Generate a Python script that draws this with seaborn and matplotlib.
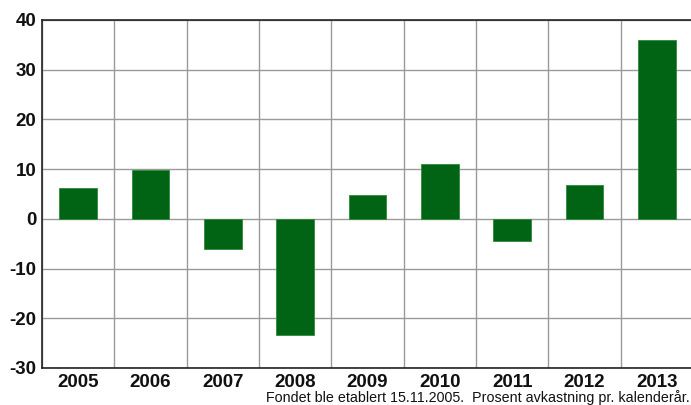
import matplotlib
matplotlib.use("Agg")
import matplotlib.pyplot as plt
import seaborn as sns
import pandas as pd
import numpy as np

years = ["2005", "2006", "2007", "2008", "2009", "2010", "2011", "2012", "2013"]
returns = [6.2, 9.8, -6.0, -23.3, 4.7, 11.0, -4.4, 6.8, 36.0]
y_ticks = [-30, -20, -10, 0, 10, 20, 30, 40]
footnote = "Fondet ble etablert 15.11.2005.  Prosent avkastning pr. kalenderår."

sns.set_style("white")
plt.rcParams["font.family"] = ["Liberation Sans", "DejaVu Sans"]

df = pd.DataFrame({"year": years, "ret": returns})

fig = plt.figure(figsize=(6.91, 4.05), dpi=100)
ax = fig.add_axes([42 / 691, 1 - 368 / 405, 1 - 42 / 691 + 0.003, 348 / 405])

sns.barplot(data=df, x="year", y="ret", color="#006414", saturation=1,
            width=0.52, ax=ax, zorder=3, linewidth=0.6, edgecolor="#2f8a3a")

ax.set_ylim(-30, 40)
ax.set_xlim(-0.5, len(years) - 0.5)
ax.set_yticks(y_ticks)
ax.set_yticklabels([str(t) for t in y_ticks], fontsize=13.5, fontweight="bold",
                   color="#111111")
ax.set_xticks(range(len(years)))
ax.set_xticklabels(years, fontsize=13.5, fontweight="bold", color="#111111")
ax.set_xticks(np.arange(len(years)) - 0.5, minor=True)
ax.tick_params(axis="both", which="both", length=0)
ax.tick_params(axis="x", pad=4.5)
ax.tick_params(axis="y", pad=4)

ax.grid(axis="y", which="major", color="#9a9a9a", linewidth=1, zorder=1)
ax.grid(axis="x", which="minor", color="#9a9a9a", linewidth=1, zorder=1)
ax.grid(axis="x", which="major", visible=False)
ax.set_axisbelow(True)

ax.set_xlabel("")
ax.set_ylabel("")
for side in ["left", "bottom", "top"]:
    ax.spines[side].set_color("#222222")
    ax.spines[side].set_linewidth(1.2)
ax.spines["right"].set_visible(False)

fig.text(690 / 691, 1 - 398 / 405, footnote, ha="right", va="center",
         fontsize=10.3, color="#111111")

fig.savefig("out.png", dpi=100, facecolor="white")
